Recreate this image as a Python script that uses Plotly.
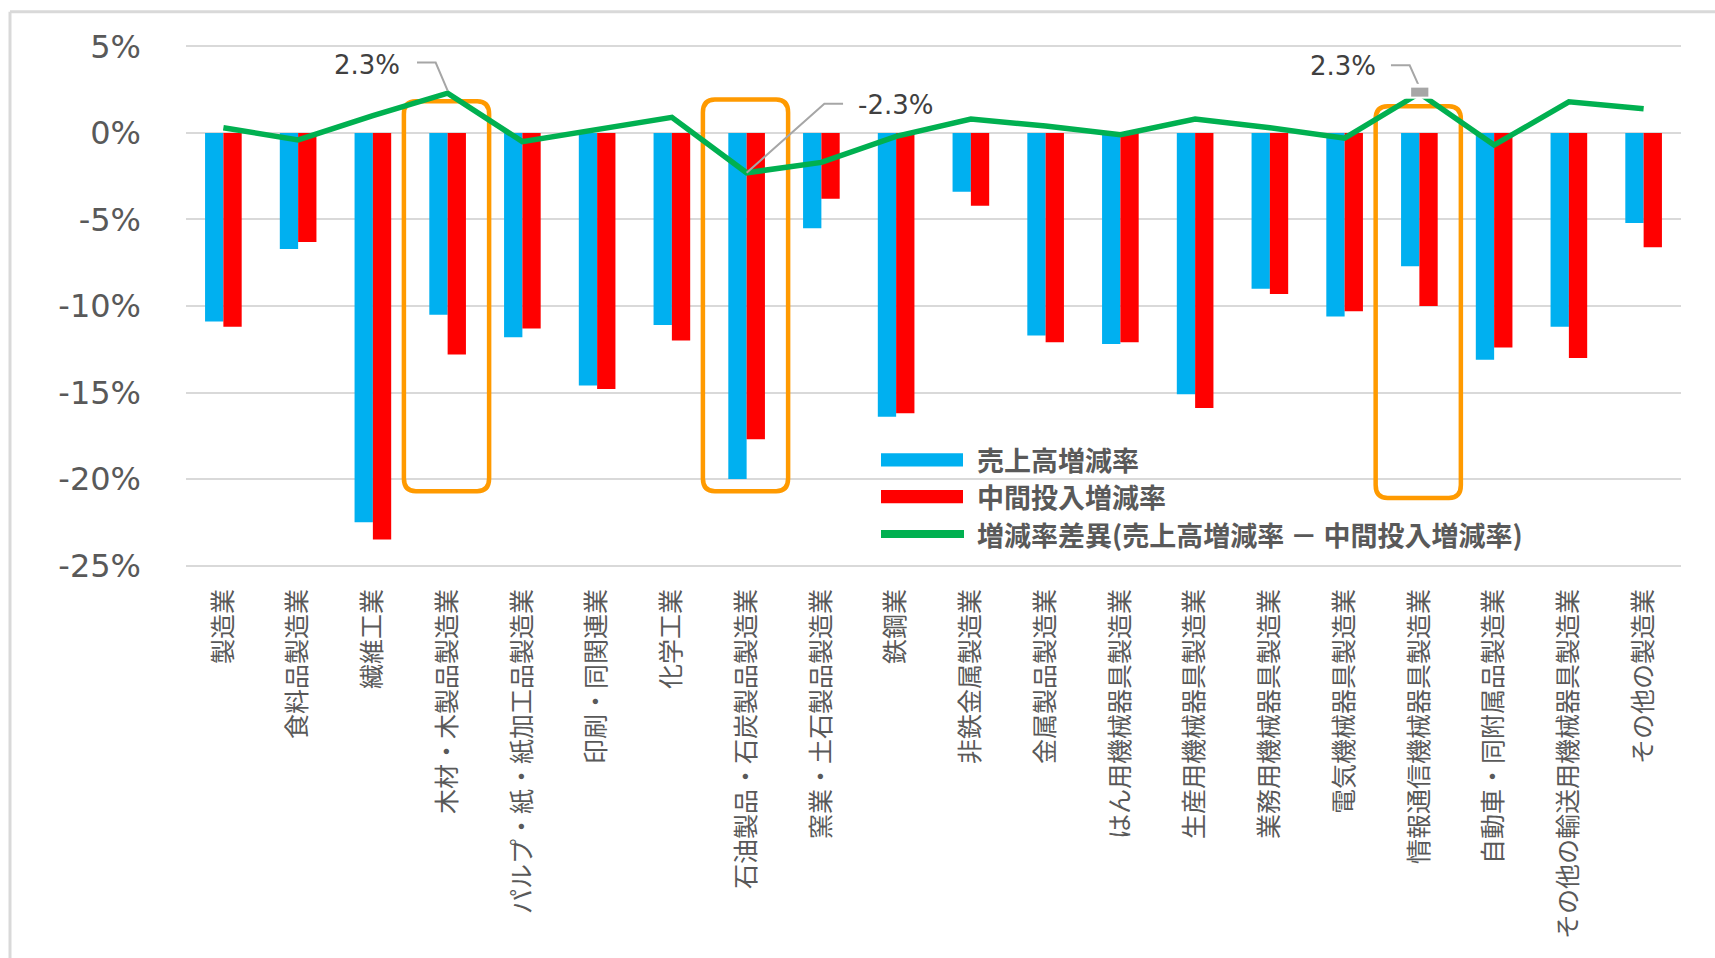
import plotly.graph_objects as go

categories = [
    "製造業", "食料品製造業", "繊維工業", "木材・木製品製造業",
    "パルプ・紙・紙加工品製造業", "印刷・同関連業", "化学工業",
    "石油製品・石炭製品製造業", "窯業・土石製品製造業", "鉄鋼業",
    "非鉄金属製造業", "金属製品製造業", "はん用機械器具製造業",
    "生産用機械器具製造業", "業務用機械器具製造業", "電気機械器具製造業",
    "情報通信機械器具製造業", "自動車・同附属品製造業",
    "その他の輸送用機械器具製造業", "その他の製造業",
]
sales_change = [-10.9, -6.7, -22.5, -10.5, -11.8, -14.6, -11.1, -20.0, -5.5, -16.4,
                -3.4, -11.7, -12.2, -15.1, -9.0, -10.6, -7.7, -13.1, -11.2, -5.2]
input_change = [-11.2, -6.3, -23.5, -12.8, -11.3, -14.8, -12.0, -17.7, -3.8, -16.2,
                -4.2, -12.1, -12.1, -15.9, -9.3, -10.3, -10.0, -12.4, -13.0, -6.6]
rate_gap = [0.3, -0.4, 1.0, 2.3, -0.5, 0.2, 0.9, -2.3, -1.7, -0.2,
            0.8, 0.4, -0.1, 0.8, 0.3, -0.3, 2.3, -0.7, 1.8, 1.4]
y_ticks = [5, 0, -5, -10, -15, -20, -25]
series_names = ["売上高増減率", "中間投入増減率", "増減率差異(売上高増減率 － 中間投入増減率)"]
highlighted = [3, 7, 16]           # categories framed in orange
callouts = [3, 7, 16]              # points with a value label

BLUE, RED, GREEN, ORANGE = "#00B0F0", "#FF0000", "#00B050", "#FF9A00"
GRID, TXT, LEAD = "#D9D9D9", "#595959", "#A6A6A6"
JP = "Noto Sans CJK JP"
NUM = "DejaVu Sans"

idx = list(range(len(categories)))

fig = go.Figure()
fig.add_trace(go.Bar(x=idx, y=sales_change, name=series_names[0],
                     marker=dict(color=BLUE, line=dict(width=0)), showlegend=False))
fig.add_trace(go.Bar(x=idx, y=input_change, name=series_names[1],
                     marker=dict(color=RED, line=dict(width=0)), showlegend=False))
fig.add_trace(go.Scatter(x=idx, y=rate_gap, name=series_names[2], mode="lines",
                         line=dict(color=GREEN, width=5.5), showlegend=False))

# plot-area geometry in pixels (used to place items outside the axes)
W, H = 1715, 958
L, R, T, B = 186, 34, 43.2, 388.9
pw, ph = W - L - R, H - T - B


def px_x(p):
    return (p - L) / pw


def px_y(p):
    return (H - B - p) / ph


shapes = []

# rounded orange frames around highlighted industries
tops = {3: 1.83, 7: 1.93, 16: 1.54}
bottoms = {3: -20.7, 7: -20.7, 16: -21.1}
rx, ry = 0.16, 0.75
for i in highlighted:
    x0, x1 = i - 0.585, i + 0.555
    y0, y1 = bottoms[i], tops[i]
    path = (f"M{x0 + rx},{y1} L{x1 - rx},{y1} Q{x1},{y1} {x1},{y1 - ry} "
            f"L{x1},{y0 + ry} Q{x1},{y0} {x1 - rx},{y0} L{x0 + rx},{y0} "
            f"Q{x0},{y0} {x0},{y0 + ry} L{x0},{y1 - ry} Q{x0},{y1} {x0 + rx},{y1} Z")
    shapes.append(dict(type="path", path=path, xref="x", yref="y", layer="between",
                       line=dict(color=ORANGE, width=4.5)))

# leader lines for the value labels
leaders = {
    3: [(2.59, 4.07), (2.84, 4.07), (3.0, 2.45)],
    7: [(8.29, 1.69), (8.04, 1.69), (7.0, -2.3)],
    16: [(15.62, 3.91), (15.87, 3.91), (15.99, 2.75)],
}
for i in callouts:
    pts = leaders[i]
    path = "M" + " L".join(f"{x},{y}" for x, y in pts)
    shapes.append(dict(type="path", path=path, xref="x", yref="y", layer="above",
                       line=dict(color=LEAD, width=2)))

# selected-point marker on the information/communication peak
shapes.append(dict(type="rect", xref="x", yref="y", x0=15.8, x1=16.2, y0=1.98, y1=2.84,
                   fillcolor="white", line=dict(width=0), layer="above"))
shapes.append(dict(type="rect", xref="x", yref="y", x0=15.89, x1=16.12, y0=2.1, y1=2.62,
                   fillcolor=LEAD, line=dict(width=0), layer="above"))

# chart border
shapes.append(dict(type="line", xref="paper", yref="paper",
                   x0=px_x(10), x1=px_x(1715), y0=px_y(12), y1=px_y(12),
                   line=dict(color=GRID, width=3)))
shapes.append(dict(type="line", xref="paper", yref="paper",
                   x0=px_x(10), x1=px_x(10), y0=px_y(12), y1=px_y(958),
                   line=dict(color=GRID, width=3)))

# legend swatches
shapes.append(dict(type="rect", xref="paper", yref="paper",
                   x0=px_x(881), x1=px_x(963), y0=px_y(466.7), y1=px_y(453.3),
                   fillcolor=BLUE, line=dict(width=0)))
shapes.append(dict(type="rect", xref="paper", yref="paper",
                   x0=px_x(881), x1=px_x(963), y0=px_y(503.3), y1=px_y(490),
                   fillcolor=RED, line=dict(width=0)))
shapes.append(dict(type="line", xref="paper", yref="paper",
                   x0=px_x(881), x1=px_x(964), y0=px_y(534), y1=px_y(534),
                   line=dict(color=GREEN, width=8)))

annotations = []
label_pos = {3: (2.39, 3.95, "right"), 7: (8.46, 1.63, "left"), 16: (15.45, 3.86, "right")}
for i in callouts:
    x, y, anchor = label_pos[i]
    annotations.append(dict(x=x, y=y, xref="x", yref="y", text=f"{rate_gap[i]:.1f}%",
                            showarrow=False, xanchor=anchor, yanchor="middle",
                            font=dict(family=NUM, size=26, color="#404040")))

for name, yc in zip(series_names, [460, 496.7, 534.3]):
    annotations.append(dict(x=px_x(975), y=px_y(yc), xref="paper", yref="paper",
                            text=f"<b>{name}</b>", showarrow=False,
                            xanchor="left", yanchor="middle",
                            font=dict(family=JP, size=27, color=TXT)))

fig.update_layout(
    width=W, height=H,
    margin=dict(l=L, r=R, t=T, b=B, pad=0),
    paper_bgcolor="white", plot_bgcolor="white",
    barmode="group", bargap=0.51, bargroupgap=0,
    shapes=shapes, annotations=annotations,
    showlegend=False,
    xaxis=dict(
        range=[-0.5, len(categories) - 0.5],
        tickmode="array", tickvals=idx, ticktext=categories,
        tickangle=-90, ticks="", showgrid=False, zeroline=False, showline=False,
        ticklabelstandoff=14,
        tickfont=dict(family=JP, size=25, color=TXT),
    ),
    yaxis=dict(
        range=[-25.2, 5.2],
        tickmode="array", tickvals=y_ticks,
        ticktext=[f"{v}%" for v in y_ticks],
        ticks="", showgrid=True, gridcolor=GRID, gridwidth=2,
        zeroline=False, showline=False,
        ticklabelstandoff=44,
        tickfont=dict(family=NUM, size=32, color=TXT),
    ),
)

fig.write_html("out.html")
